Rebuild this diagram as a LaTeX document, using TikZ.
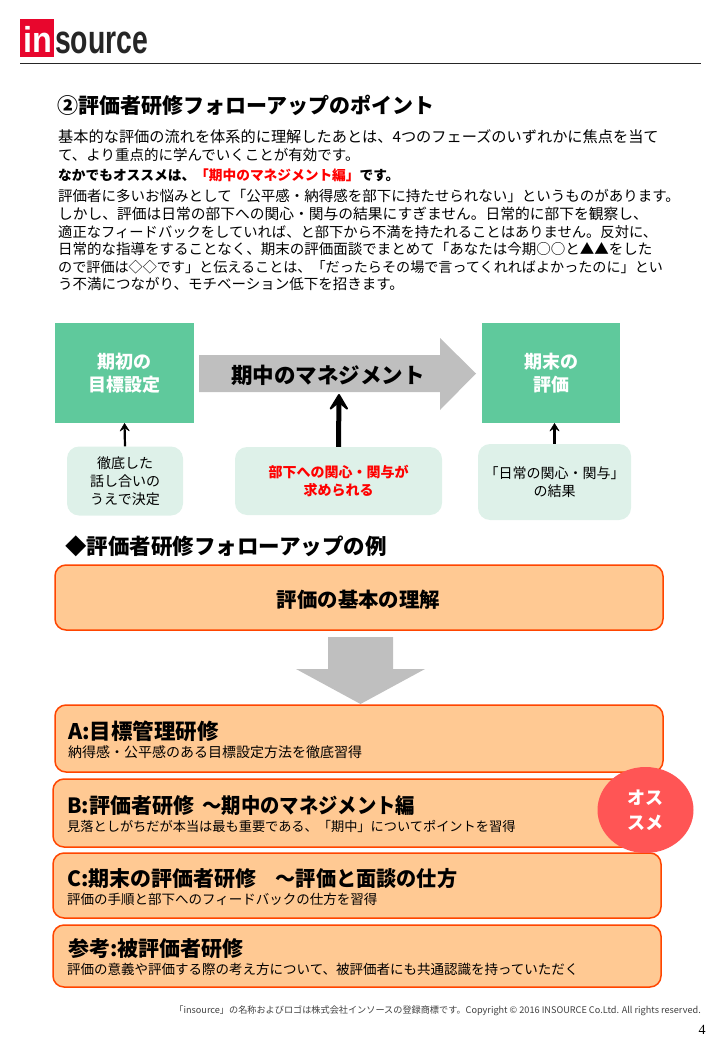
\documentclass[tikz,border=0pt]{standalone}
\usepackage{fontspec}
\setmainfont{Noto Sans CJK JP}
\newfontfamily\logofont{Liberation Sans}
\newfontfamily\pagefont{Liberation Serif}
\usetikzlibrary{arrows.meta,shapes,positioning}
\definecolor{insred}{HTML}{E8062D}
\definecolor{phasegreen}{HTML}{5FC99C}
\definecolor{notegreen}{HTML}{DEF1E9}
\definecolor{arrowgray}{HTML}{BFBFBF}
\definecolor{boxorange}{HTML}{FFC993}
\definecolor{boxline}{HTML}{FF4500}
\definecolor{stampred}{HTML}{FF5555}
\newcommand{\narrowtail}[2]{\scalebox{#1}[1]{#2}}
\tikzset{
	bodyline/.style={anchor=west, inner sep=0, font=\fontsize{14.5}{17}\selectfont},
	leadline/.style={bodyline, font=\fontsize{13.7}{17}\selectfont\bfseries},
	headline/.style={anchor=west, inner sep=0, font=\fontsize{21}{24}\selectfont\bfseries},
	phase/.style={fill=phasegreen, text=white, align=center, inner sep=0, minimum height=100pt, font=\fontsize{18}{23}\selectfont\bfseries},
	note/.style={fill=notegreen, rounded corners=12pt, align=center, inner sep=0, font=\fontsize{14}{18}\selectfont},
	plan/.style={draw=boxline, line width=1.5pt, fill=boxorange, rounded corners=11pt, inner sep=0},
	plan title/.style={anchor=west, inner sep=0, font=\fontsize{21}{24}\selectfont\bfseries},
	plan text/.style={anchor=west, inner sep=0, font=\fontsize{13.5}{16}\selectfont},
	grow up/.style={draw, line width=2.2pt, -{Stealth[round, length=9pt, width=11pt, inset=4pt, line width=.5pt]}},
	grow up big/.style={draw, line width=5pt, -{Stealth[round, length=20pt, width=24pt, inset=10pt, line width=2pt]}}
}
\begin{document}
\begin{tikzpicture}[x=1pt,y=-1pt]
	\useasboundingbox (0,0) rectangle (720,1040);
	% header
	\node[fill=insred, minimum width=34pt, minimum height=38pt, inner sep=0] (logobox) at (37,38) {};
	\node[text=white, inner sep=0, anchor=base] (logoin) at (38,53) {\logofont\bfseries\fontsize{36}{36}\selectfont\scalebox{0.9}[1]{in}};
	\node[text=black!85, anchor=base west, inner sep=0] (logotext) at (55,54) {\logofont\bfseries\fontsize{40}{40}\selectfont\scalebox{0.71}[1]{source}};
	\coordinate (rulel) at (20,63);
	\coordinate (ruler) at (701,63);
	\draw[black!85, line width=0.8pt] (rulel) -- (ruler);
	% text block
	\node[headline] (title) at (57,105) {②評価者研修フォローアップのポイント};
	\node[bodyline, font=\fontsize{15.2}{17}\selectfont] (l1) at (58,137) {基本的な評価の流れを体系的に理解したあとは、4つのフェーズのいずれかに焦点を当て};
	\node[bodyline] (l2) at (58,155) {て、より重点的に学んでいくことが有効です。};
	\node[leadline] (l3) at (58,175) {なかでもオススメは、\textcolor{red}{「期中のマネジメント編」}です。};
	\node[bodyline] (l4) at (58,196) {評価者に多いお悩みとして「公平感・納得感を部下に持たせられない」というものがあります。};
	\node[bodyline, font=\fontsize{14.75}{17}\selectfont] (l5) at (58,214) {しかし、評価は日常の部下への関心・関与の結果にすぎません。日常的に部下を観察し、};
	\node[bodyline, font=\fontsize{14.3}{17}\selectfont] (l6) at (58,232) {適正なフィードバックをしていれば、と部下から不満を持たれることはありません。反対に、};
	\node[bodyline] (l7) at (58,249) {日常的な指導をすることなく、期末の評価面談でまとめて「あなたは今期○○と▲▲をした};
	\node[bodyline, font=\fontsize{14.1}{17}\selectfont] (l8) at (58,267) {ので評価は◇◇です」と伝えることは、「だったらその場で言ってくれればよかったのに」とい};
	\node[bodyline] (l9) at (58,284) {う不満につながり、モチベーション低下を招きます。};
	% phases
	\node[phase, minimum width=139pt] (goalbox) at (124.5,373) {期初の\\目標設定};
	\node[phase, minimum width=138pt] (resultbox) at (551,373) {期末の\\評価};
	\fill[arrowgray] (199,355) -- (440,355) -- (440,338) -- (476,373.5) -- (440,410) -- (440,392) -- (199,392) -- cycle;
	\node[inner sep=0, font=\fontsize{21.5}{24}\selectfont\bfseries] (midlabel) at (328,375) {期中のマネジメント};
	\node[note, minimum width=116pt, minimum height=69pt] (goalnote) at (125,481) {徹底した\\話し合いの\\うえで決定};
	\node[note, minimum width=207pt, minimum height=68pt, text=red, font=\fontsize{14}{18}\selectfont\bfseries] (midnote) at (338.5,481) {部下への関心・関与が\\求められる};
	\node[note, minimum width=153pt, minimum height=76pt] (resultnote) at (554.5,482) {「日常の関心・関与」\\の結果};
	\coordinate (midtip) at (339,394);
	\draw[grow up] (goalnote.north) -- (goalbox.south);
	\draw[grow up big] (midnote.north) -- (midtip);
	\draw[grow up] (resultnote.north) -- (resultnote.north |- resultbox.south);
	% examples
	\node[headline, font=\fontsize{21.5}{24}\selectfont\bfseries] (subtitle) at (65,546) {◆評価者研修フォローアップの例};
	\node[plan, minimum width=608pt, minimum height=65pt] (basis) at (359,597.5) {};
	\node[inner sep=0, font=\fontsize{20.4}{24}\selectfont\bfseries] (basislabel) at (358.5,600) {評価の基本の理解};
	\fill[arrowgray] (328,637) -- (393,637) -- (393,669) -- (425,669) -- (360.5,704) -- (296,669) -- (328,669) -- cycle;
	\node[plan, minimum width=608pt, minimum height=67pt] (planA) at (359,738.5) {};
	\node[plan, minimum width=608pt, minimum height=68pt] (planB) at (357,813) {};
	\node[plan, minimum width=608pt, minimum height=65pt] (planC) at (357,885.5) {};
	\node[plan, minimum width=608pt, minimum height=62pt] (planD) at (357,956) {};
	\node[plan title, font=\fontsize{21.5}{24}\selectfont\bfseries] (titleA) at (68,731) {A:目標管理研修};
	\node[plan text, font=\fontsize{14}{16}\selectfont] (textA) at (68,752) {納得感・公平感のある目標設定方法を徹底習得};
	\node[plan title] (titleB) at (67,806) {B:評価者研修 \,\narrowtail{0.92}{～期中のマネジメント編}};
	\node[plan text, font=\fontsize{13.2}{16}\selectfont] (textB) at (67,826) {見落としがちだが本当は最も重要である、「期中」についてポイントを習得};
	\node[plan title] (titleC) at (67,879) {C:期末の評価者研修 \ \ \ \narrowtail{0.96}{～評価と面談の仕方}};
	\node[plan text] (textC) at (67,899) {評価の手順と部下へのフィードバックの仕方を習得};
	\node[plan title] (titleD) at (68,949) {参考:被評価者研修};
	\node[plan text] (textD) at (67,969) {評価の意義や評価する際の考え方について、被評価者にも共通認識を持っていただく};
	\node[ellipse, fill=stampred, text=white, minimum width=96pt, minimum height=86pt, inner sep=0, align=center, font=\fontsize{18}{25}\selectfont\bfseries] (stamp) at (645.5,810) {オス\\スメ};
	% footer
	\node[anchor=east, inner sep=0, text=black!75, font=\fontsize{9.15}{11}\selectfont] (footer) at (701,1011) {「insource」の名称およびロゴは株式会社インソースの登録商標です。Copyright © 2016 INSOURCE Co.Ltd. All rights reserved.};
	\node[inner sep=0, font=\pagefont\fontsize{14}{16}\selectfont] (pageno) at (702,1030) {4};
\end{tikzpicture}
\end{document}
